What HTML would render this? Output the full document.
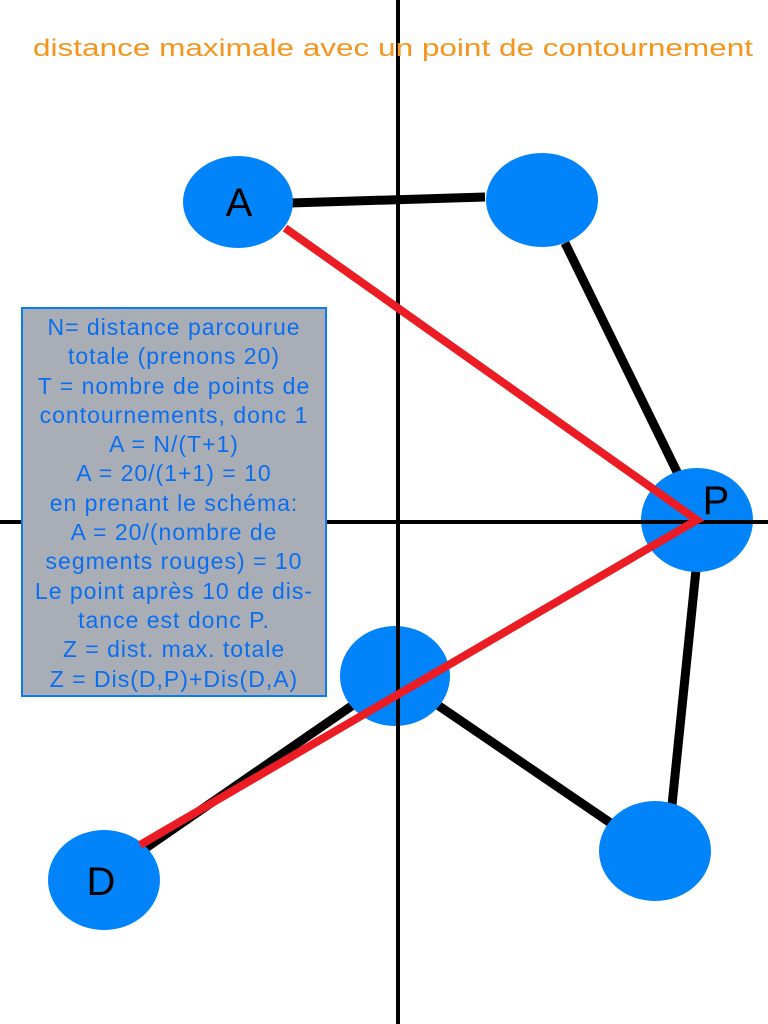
<!DOCTYPE html>
<html><head><style>
html,body{margin:0;padding:0;background:#fff;width:768px;height:1024px;overflow:hidden}
.box{position:absolute;left:21px;top:307px;width:306px;height:390px;background:#a9aeb6;border:2px solid #0a7cf0;color:#0a6ef0;font:23px/29.3px "Liberation Sans",sans-serif;letter-spacing:1px;text-align:center;padding-top:4px;box-sizing:border-box;white-space:nowrap}
</style></head><body>
<svg width="768" height="1024" style="position:absolute;left:0;top:0">
<g stroke="#000" stroke-width="9">
<line x1="290" y1="203" x2="485" y2="197"/>
<line x1="565" y1="243" x2="680" y2="478"/>
<line x1="395" y1="676" x2="140" y2="852"/>
<line x1="395" y1="676" x2="615" y2="826"/>
<line x1="697" y1="560" x2="672" y2="805"/>
</g>
<g fill="#0184fa">
<ellipse cx="238" cy="202" rx="55" ry="46"/>
<ellipse cx="542" cy="200" rx="56" ry="47"/>
<ellipse cx="697" cy="520" rx="56" ry="52"/>
<ellipse cx="395" cy="676" rx="55" ry="50"/>
<ellipse cx="655" cy="851" rx="56" ry="50"/>
<ellipse cx="104" cy="880" rx="56" ry="50"/>
</g>
<g stroke="#000" stroke-width="4">
<line x1="398" y1="0" x2="398" y2="1024"/>
<line x1="0" y1="522" x2="768" y2="522"/>
</g>
<g stroke="#ec1c24" stroke-width="8" fill="none">
<polyline points="285,228 697,520 140,845"/>
</g>
<g font-family="Liberation Sans, sans-serif" font-size="40" fill="#000" text-anchor="middle">
<text x="239" y="216">A</text>
<text x="716" y="514">P</text>
<text x="101" y="895">D</text>
</g>
<text x="33" y="56" font-family="Liberation Sans, sans-serif" font-size="24" fill="#f7941d" textLength="720" lengthAdjust="spacingAndGlyphs">distance maximale avec un point de contournement</text>
</svg>
<div class="box">N= distance parcourue<br>totale (prenons 20)<br>T = nombre de points de<br>contournements, donc 1<br>A = N/(T+1)<br>A = 20/(1+1) = 10<br>en prenant le schéma:<br>A = 20/(nombre de<br>segments rouges) = 10<br>Le point après 10 de dis-<br>tance est donc P.<br>Z = dist. max. totale<br>Z = Dis(D,P)+Dis(D,A)</div>
</body></html>
